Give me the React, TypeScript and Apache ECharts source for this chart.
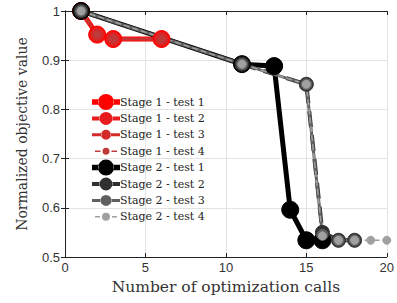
import React, { useEffect, useRef } from "react";
import * as echarts from "echarts";

const s1x = [1, 2, 3, 6];
const s1y = [1, 0.952, 0.943, 0.943];
const s2t1x = [1, 11, 13, 14, 15, 16];
const s2t1y = [1, 0.892, 0.888, 0.596, 0.534, 0.534];
const s2t2x = [1, 11, 15, 16, 17, 18];
const s2t2y = [1, 0.892, 0.851, 0.55, 0.534, 0.534];
const s2t3x = [1, 11, 15, 16, 17, 18];
const s2t3y = [1, 0.892, 0.851, 0.545, 0.534, 0.534];
const s2t4x = [1, 11, 15, 16, 17, 18, 19, 20];
const s2t4y = [1, 0.892, 0.851, 0.543, 0.534, 0.534, 0.534, 0.534];
const xTicks = [0, 5, 10, 15, 20];
const yTicks = [0.5, 0.6, 0.7, 0.8, 0.9, 1];

const zip = (xs: number[], ys: number[]) => xs.map((x, i) => [x, ys[i]]);

const seriesDefs = [
  { name: "Stage 1 - test 1", x: s1x, y: s1y, color: "#ff0000", w: 5, s: 17, dash: false, lw: 5.5, lr: 8 },
  { name: "Stage 1 - test 2", x: s1x, y: s1y, color: "#e81c1c", w: 4, s: 14, dash: true, lw: 4, lr: 6.5 },
  { name: "Stage 1 - test 3", x: s1x, y: s1y, color: "#d42a2a", w: 3, s: 11, dash: false, lw: 3, lr: 5 },
  { name: "Stage 1 - test 4", x: s1x, y: s1y, color: "#c03a3a", w: 1.5, s: 7, dash: true, lw: 1.5, lr: 3.5 },
  { name: "Stage 2 - test 1", x: s2t1x, y: s2t1y, color: "#000000", w: 5, s: 17, dash: false, lw: 5.5, lr: 8 },
  { name: "Stage 2 - test 2", x: s2t2x, y: s2t2y, color: "#303030", w: 4, s: 14, dash: true, lw: 4, lr: 6.5 },
  { name: "Stage 2 - test 3", x: s2t3x, y: s2t3y, color: "#606060", w: 3, s: 11, dash: false, lw: 3, lr: 5.5 },
  { name: "Stage 2 - test 4", x: s2t4x, y: s2t4y, color: "#a0a0a0", w: 1.5, s: 8, dash: true, lw: 1.5, lr: 4 },
];

const IW = 28;
const IH = 16;
function iconPath(lw: number, r: number, thinDash: boolean) {
  const cx = IW / 2;
  const cy = IH / 2;
  const t = cy - lw / 2;
  const b = cy + lw / 2;
  const rect = (x0: number, x1: number) => `M${x0} ${t} L${x1} ${t} L${x1} ${b} L${x0} ${b} Z`;
  const l0 = thinDash ? 3 : 0;
  const l1 = thinDash ? cx - r - 2 : cx - r + 0.5;
  const r0 = thinDash ? cx + r + 2 : cx + r - 0.5;
  const r1 = thinDash ? IW - 3 : IW;
  const circle = `M${cx - r} ${cy} A${r} ${r} 0 1 0 ${cx + r} ${cy} A${r} ${r} 0 1 0 ${cx - r} ${cy} Z`;
  const corners = `M0 0 L0 0.01 L0.01 0 Z M${IW} ${IH} L${IW} ${IH - 0.01} L${IW - 0.01} ${IH} Z`;
  return "path://" + corners + " " + rect(l0, l1) + " " + rect(r0, r1) + " " + circle;
}

export default function App() {
  const ref = useRef<HTMLDivElement>(null);
  useEffect(() => {
    const chart = echarts.init(ref.current!, null, { renderer: "svg" });
    const serif = "DejaVu Serif";
    const sans = "Liberation Sans";
    const gridLine = { show: true, lineStyle: { color: "#e3e3e3", width: 1 } };
    chart.setOption({
      animation: false,
      backgroundColor: "#ffffff",
      grid: { left: 65, right: 9, top: 11, bottom: 46, containLabel: false },
      legend: {
        orient: "vertical",
        left: 87,
        top: 89,
        itemWidth: IW,
        itemHeight: IH,
        itemGap: 0.4,
        textStyle: { fontFamily: serif, fontSize: 11, color: "#222", padding: [0, 0, 0, -5] },
        data: seriesDefs.map((d) => ({
          name: d.name,
          icon: iconPath(d.lw, d.lr, d.dash && d.w < 2),
          itemStyle: { color: d.color, borderWidth: 0 },
        })),
      },
      xAxis: [
        {
          type: "value",
          min: 0,
          max: 20,
          interval: 5,
          name: "Number of optimization calls",
          nameLocation: "middle",
          nameGap: 22,
          nameTextStyle: { fontFamily: serif, fontSize: 15.5, color: "#333" },
          axisLine: { show: true, lineStyle: { color: "#222", width: 1 } },
          axisTick: { show: true, inside: true, length: 4, lineStyle: { color: "#222" } },
          axisLabel: { fontFamily: sans, fontSize: 13, color: "#333", margin: 4, formatter: (v: number) => (xTicks.includes(v) ? String(v) : "") },
          splitLine: gridLine,
        },
        {
          type: "value",
          position: "top",
          min: 0,
          max: 20,
          interval: 5,
          axisLine: { show: true, lineStyle: { color: "#222", width: 1 } },
          axisTick: { show: true, inside: true, length: 4, lineStyle: { color: "#222" } },
          axisLabel: { show: false },
          splitLine: { show: false },
        },
      ],
      yAxis: [
        {
          type: "value",
          min: 0.5,
          max: 1,
          interval: 0.1,
          name: "Normalized objective value",
          nameLocation: "middle",
          nameGap: 36,
          nameTextStyle: { fontFamily: serif, fontSize: 14, color: "#333" },
          axisLine: { show: true, lineStyle: { color: "#222", width: 1 } },
          axisTick: { show: true, inside: true, length: 4, lineStyle: { color: "#222" } },
          axisLabel: {
            fontFamily: sans,
            fontSize: 13,
            color: "#333",
            margin: 5,
            formatter: (v: number) => {
              const t = yTicks.find((y) => Math.abs(y - v) < 1e-6);
              return t === undefined ? "" : t === 1 ? "1" : t.toFixed(1);
            },
          },
          splitLine: gridLine,
        },
        {
          type: "value",
          position: "right",
          min: 0.5,
          max: 1,
          interval: 0.1,
          axisLine: { show: true, lineStyle: { color: "#222", width: 1 } },
          axisTick: { show: true, inside: true, length: 4, lineStyle: { color: "#222" } },
          axisLabel: { show: false },
          splitLine: { show: false },
        },
      ],
      series: seriesDefs.map((d) => ({
        name: d.name,
        type: "line",
        xAxisIndex: 0,
        yAxisIndex: 0,
        data: zip(d.x, d.y),
        symbol: "circle",
        symbolSize: d.s,
        showSymbol: true,
        lineStyle: { color: d.color, width: d.w, type: d.dash ? "dashed" : "solid" },
        itemStyle: { color: d.color, borderColor: d.color, borderWidth: 1 },
        emphasis: { disabled: true },
      })),
    });
    return () => chart.dispose();
  }, []);
  return <div ref={ref} style={{ width: 397, height: 303, position: "absolute", left: 0, top: 0 }} />;
}
